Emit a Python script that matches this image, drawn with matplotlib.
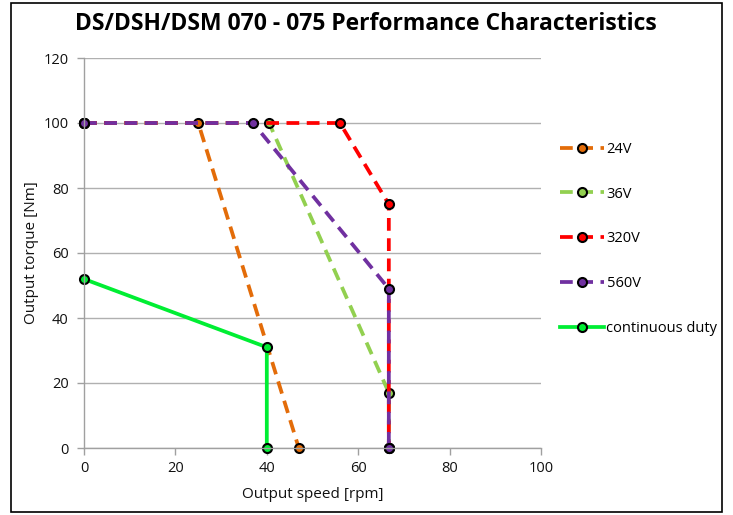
import matplotlib
matplotlib.use("Agg")
import matplotlib.pyplot as plt
from matplotlib.patches import Rectangle

plt.rcParams['font.family'] = ['Open Sans', 'DejaVu Sans']

title = "DS/DSH/DSM 070 - 075 Performance Characteristics"
xlabel = "Output speed [rpm]"
ylabel = "Output torque [Nm]"

x_24v = [0, 25, 47]
y_24v = [100, 100, 0]
x_36v = [0, 40.5, 66.7, 66.7]
y_36v = [100, 100, 17, 0]
x_320v = [0, 56, 66.7, 66.7]
y_320v = [100, 100, 75, 0]
x_560v = [0, 37, 66.7, 66.7]
y_560v = [100, 100, 49, 0]
x_cont = [0, 40, 40]
y_cont = [52, 31, 0]

labels = ["24V", "36V", "320V", "560V", "continuous duty"]
colors = ["#E36C09", "#92D050", "#FF0000", "#7030A0", "#00EE33"]
xticks = [0, 20, 40, 60, 80, 100]
yticks = [0, 20, 40, 60, 80, 100, 120]

fig = plt.figure(figsize=(7.33, 5.15), dpi=100)
fig.patch.set_facecolor("white")
fig.add_artist(Rectangle((11/733, 1-512/515), (722-11)/733, (512-3)/515,
                         transform=fig.transFigure, fill=False,
                         edgecolor="black", linewidth=1.2))
ax = fig.add_axes([84/733, 1-448/515, (541-84)/733, (448-58)/515])

series = [(x_24v, y_24v, '--'), (x_36v, y_36v, '--'), (x_320v, y_320v, '--'),
          (x_560v, y_560v, '--'), (x_cont, y_cont, '-')]
for (xs, ys, ls), lab, c in zip(series, labels, colors):
    kw = dict(color=c, lw=2.7, marker='o', markersize=6.5,
              markerfacecolor=c, markeredgecolor='black', markeredgewidth=1.5,
              label=lab, clip_on=False)
    if ls == '--':
        ax.plot(xs, ys, linestyle=(0, (3.4, 2.0)), **kw)
    else:
        ax.plot(xs, ys, linestyle='-', **kw)

ax.set_xlim(0, 100)
ax.set_ylim(0, 120)
ax.set_xticks(xticks)
ax.set_yticks(yticks)
ax.yaxis.grid(True, color="#B0B0B0", linewidth=1)
ax.set_axisbelow(True)
for s in ['top', 'right']:
    ax.spines[s].set_visible(False)
for s in ['left', 'bottom']:
    ax.spines[s].set_color("#A0A0A0")
    ax.spines[s].set_linewidth(1)
ax.tick_params(axis='both', colors="#A0A0A0", labelcolor="#111111",
               labelsize=10.5, length=5, width=1)
ax.tick_params(axis='x', pad=4)
ax.tick_params(axis='y', pad=6)
ax.set_xlabel(xlabel, fontsize=11, color="#111111", labelpad=8)
ax.set_ylabel(ylabel, fontsize=11, color="#111111", labelpad=3)

fig.text(366/733, 1-24/515, title, ha='center', va='center',
         fontsize=16.5, fontweight='bold', color='black')

leg = ax.legend(loc='center left', bbox_to_anchor=(554/733, 1-239/515),
                bbox_transform=fig.transFigure, frameon=False,
                fontsize=10.5, labelspacing=2.05, handlelength=3.0,
                handletextpad=0.2, borderaxespad=0)

fig.savefig("out.png", dpi=100)
